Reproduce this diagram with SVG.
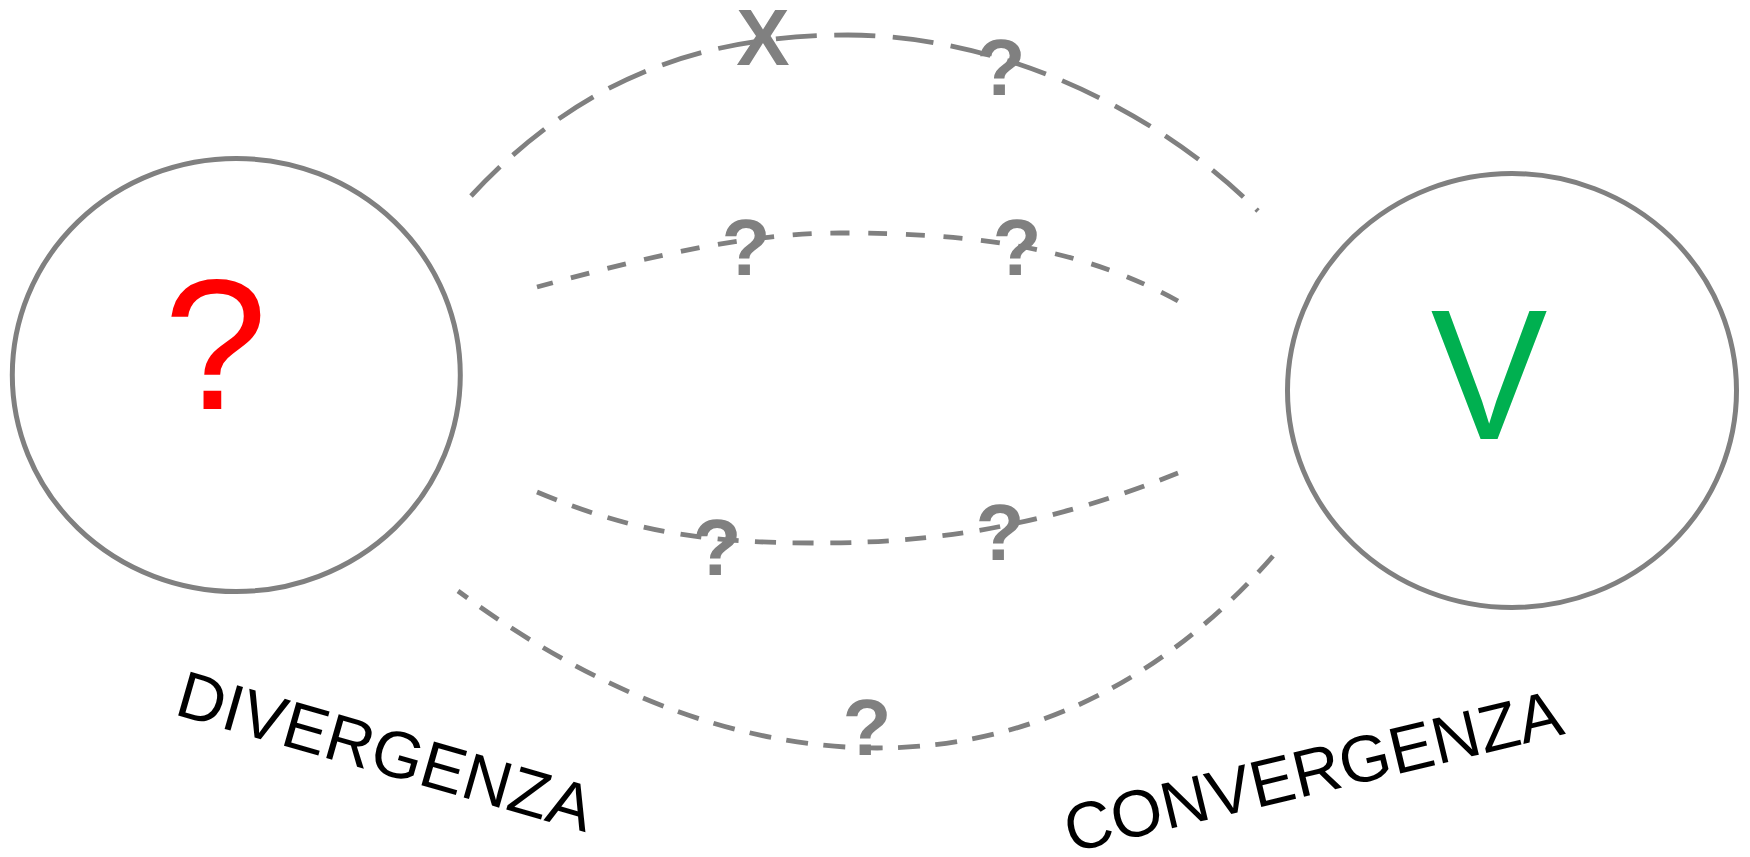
<svg xmlns="http://www.w3.org/2000/svg" width="1750" height="857" viewBox="0 0 1750 857">
  <style>
    .node { fill: #ffffff; stroke: #808080; stroke-width: 5; }
    .link { fill: none; stroke: #808080; stroke-width: 4.8; stroke-linecap: butt; }
    .mark { font-family: "Liberation Sans", Arial, sans-serif; font-weight: bold; font-size: 80px; fill: #808080; text-anchor: middle; }
    .big { font-family: "Liberation Sans", Arial, sans-serif; font-size: 186px; text-anchor: middle; }
    .caption { font-family: "Liberation Sans", Arial, sans-serif; font-size: 66px; fill: #000000; }
  </style>

  <!-- dashed connectors between the two nodes -->
  <g id="connectors">
    <path class="link" stroke-dasharray="41 17.5" d="M471,196 C580,79 700,35 848,35 C997,35 1154,107 1258,211"/>
    <path class="link" stroke-dasharray="19 18.7" d="M1178,301 C1078,246 970,233 840,233 C740,233 637,260 537,287"/>
    <path class="link" stroke-dasharray="21 16.5" d="M537,492 C637,534 710,543 820,543 C950,543 1058,521 1178,473"/>
    <path class="link" stroke-dasharray="22 15.4" d="M1273,556 C1050,812 740,800 458,591"/>
    <g id="connector-labels">
      <text class="mark" x="763" y="65">X</text>
      <text class="mark" x="1001" y="95">?</text>
      <text class="mark" x="746" y="275">?</text>
      <text class="mark" x="1017" y="275">?</text>
      <text class="mark" x="717" y="575">?</text>
      <text class="mark" x="1000" y="560">?</text>
      <text class="mark" x="867" y="755">?</text>
    </g>
  </g>

  <!-- left node: divergence -->
  <g id="node-divergenza">
    <ellipse class="node" cx="236.3" cy="375" rx="224" ry="216.5"/>
    <text class="big" x="215.6" y="409" fill="#ff0000">?</text>
    <text class="caption" transform="translate(173,714) rotate(16)">DIVERGENZA</text>
  </g>

  <!-- right node: convergence -->
  <g id="node-convergenza">
    <ellipse class="node" cx="1512" cy="390.5" rx="224.5" ry="217"/>
    <text class="big" transform="translate(1489,439) scale(0.94,1)" fill="#00b050">V</text>
    <text class="caption" transform="translate(1070.5,852.7) rotate(-13.5)">CONVERGENZA</text>
  </g>
</svg>
